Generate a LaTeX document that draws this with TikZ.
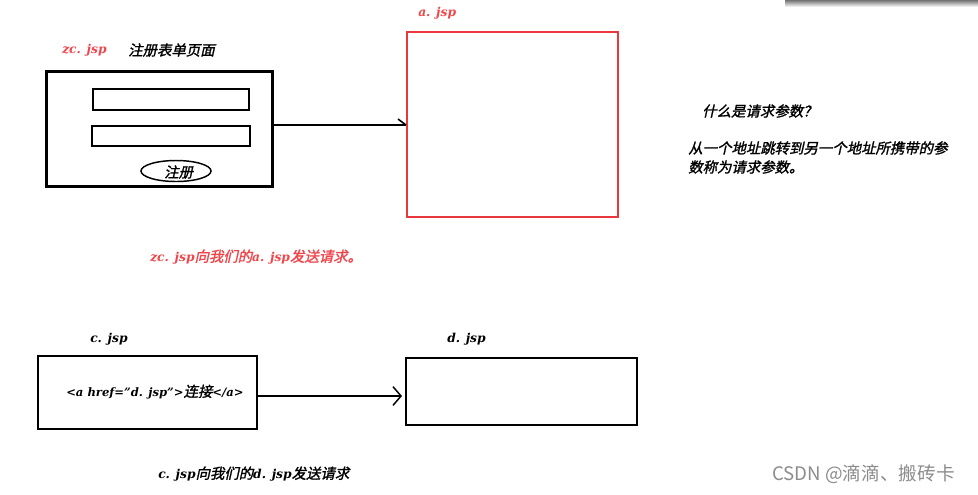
\documentclass[tikz,border=0pt]{standalone}
\usepackage{fontspec}
\setmainfont{DejaVu Serif}
\newfontfamily\cjk[AutoFakeSlant=0.22,AutoFakeBold=1.5]{Noto Sans CJK SC}
\newfontfamily\wm{Noto Sans CJK SC}
\usetikzlibrary{arrows.meta,shapes.geometric}
\definecolor{redline}{HTML}{E8383D}
\definecolor{redtext}{HTML}{F0464B}
\tikzset{
  lbl/.style={anchor=west,inner sep=0pt,font=\fontsize{10.8}{13}\selectfont\bfseries\itshape},
  redlbl/.style={lbl,text=redtext},
  box/.style={draw,inner sep=0pt,rectangle},
}
\newcommand{\lt}[1]{{\fontsize{9.2}{13}\selectfont #1}}
\newcommand{\ltsm}[1]{{\fontsize{8.7}{13}\selectfont #1}}
\begin{document}
\begin{tikzpicture}[x=0.75pt,y=-0.75pt]
\useasboundingbox (0,0) rectangle (978,494);
\fill[white] (0,0) rectangle (978,494);
\shade[top color=black!55,bottom color=white] (785,0) rectangle (978,7);
% zc.jsp
\node[redlbl] (zclbl) at (62,50) {\lt{zc. jsp}};
\node[lbl] (zctitle) at (128,50) {\cjk 注册表单页面};
\node[box,line width=2.25pt,minimum width=226*0.75pt,minimum height=115*0.75pt] (zc) at (159,128.5) {};
\node[box,line width=1.5pt,minimum width=156*0.75pt,minimum height=21*0.75pt] (in1) at (171,99.5) {};
\node[box,line width=1.5pt,minimum width=158*0.75pt,minimum height=20*0.75pt] (in2) at (171,136) {};
\node[draw,ellipse,line width=1.1pt,minimum width=70*0.75pt,minimum height=21*0.75pt,inner sep=0pt] (btn) at (176,171) {};
\node[lbl] (btntxt) at (164,172) {\cjk 注册};
% a.jsp
\node[redlbl] (albl) at (418,13) {\lt{a. jsp}};
\node[box,draw=redline,line width=1.5pt,minimum width=211*0.75pt,minimum height=185*0.75pt] (a) at (512.5,124.5) {};
\coordinate (ahead) at (a.west |- 0,125);
\draw[line width=1.2pt] (zc.east |- ahead) -- (ahead);
\draw[line width=1.2pt] (ahead) -- ++(-8,-6);
% right text
\node[lbl] (q) at (702,111) {\cjk 什么是请求参数？};
\node[lbl] (ans1) at (688,148) {\cjk 从一个地址跳转到另一个地址所携带的参};
\node[lbl] (ans2) at (688,167) {\cjk 数称为请求参数。};
% red sentence
\node[redlbl] (s1) at (150,257) {\lt{zc. jsp}\cjk 向我们的\rmfamily\lt{a. jsp}\cjk 发送请求。};
% c.jsp
\node[lbl] (clbl) at (90,339) {\lt{c. jsp}};
\node[box,line width=1.1pt,minimum width=219*0.75pt,minimum height=73*0.75pt] (c) at (147.5,392.5) {};
\node[lbl] (ctxt) at (66,392) {\ltsm{<a href="d. jsp">}\cjk 连接\rmfamily\ltsm{</a>}};
% d.jsp
\node[lbl] (dlbl) at (447,339) {\lt{d. jsp}};
\node[box,line width=1.1pt,minimum width=231*0.75pt,minimum height=67*0.75pt] (d) at (521.5,391.5) {};
\coordinate (cstart) at (c.east |- 0,396);
\coordinate (dend) at (402,396);
\draw[line width=1.2pt,-{Straight Barb[length=6pt,width=14pt,line width=1.1pt]}] (cstart) -- (dend);
% bottom sentence
\node[lbl] (s2) at (158,474) {\lt{c. jsp}\cjk 向我们的\rmfamily\lt{d. jsp}\cjk 发送请求};
% watermark
\node[anchor=west,inner sep=0pt,text=black!45,font=\wm\fontsize{14}{16}\selectfont] (wmk) at (772,474) {CSDN @滴滴、搬砖卡};
\end{tikzpicture}
\end{document}
